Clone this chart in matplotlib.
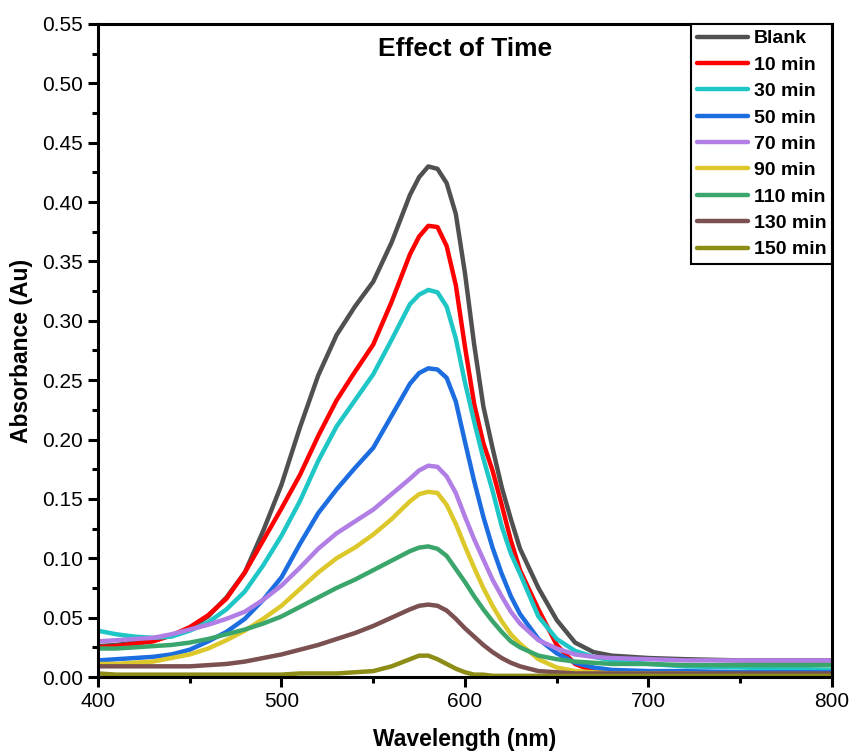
import matplotlib.pyplot as plt
from matplotlib.ticker import MultipleLocator, FormatStrFormatter

plt.rcParams['font.family'] = ['Liberation Sans', 'DejaVu Sans']

# wavelength grid (nm) and absorbance
wl = [400, 410, 420, 430, 440, 450, 460, 470, 480, 490, 500, 510, 520, 530, 540,
      550, 560, 570, 575, 580, 585, 590, 595, 600, 605, 610, 615, 620, 625, 630,
      640, 650, 660, 670, 680, 700, 720, 750, 800]

blank = [0.026, 0.027, 0.029, 0.031, 0.035, 0.041, 0.051, 0.067, 0.088, 0.123, 0.162,
         0.210, 0.254, 0.288, 0.312, 0.333, 0.366, 0.406, 0.421, 0.430, 0.428, 0.416,
         0.390, 0.340, 0.280, 0.228, 0.193, 0.160, 0.133, 0.108, 0.075, 0.048, 0.029,
         0.021, 0.018, 0.016, 0.015, 0.014, 0.014]
t10 = [0.025, 0.026, 0.028, 0.030, 0.035, 0.042, 0.052, 0.066, 0.088, 0.115, 0.142,
       0.170, 0.203, 0.233, 0.257, 0.280, 0.316, 0.356, 0.371, 0.380, 0.379, 0.363,
       0.330, 0.278, 0.230, 0.197, 0.174, 0.145, 0.115, 0.090, 0.057, 0.027, 0.011,
       0.005, 0.003, 0.003, 0.003, 0.003, 0.003]
t30 = [0.039, 0.036, 0.034, 0.033, 0.034, 0.039, 0.046, 0.057, 0.072, 0.094, 0.119,
       0.148, 0.182, 0.211, 0.233, 0.255, 0.284, 0.314, 0.322, 0.326, 0.324, 0.312,
       0.285, 0.248, 0.215, 0.184, 0.157, 0.127, 0.104, 0.087, 0.051, 0.032, 0.022,
       0.017, 0.014, 0.011, 0.009, 0.008, 0.006]
t50 = [0.014, 0.015, 0.016, 0.017, 0.019, 0.023, 0.030, 0.038, 0.049, 0.065, 0.084,
       0.112, 0.138, 0.158, 0.176, 0.193, 0.220, 0.247, 0.256, 0.260, 0.259, 0.252,
       0.232, 0.198, 0.165, 0.135, 0.109, 0.087, 0.068, 0.053, 0.032, 0.020, 0.012,
       0.008, 0.006, 0.005, 0.005, 0.004, 0.004]
t70 = [0.030, 0.031, 0.032, 0.033, 0.036, 0.040, 0.044, 0.049, 0.055, 0.065, 0.077,
       0.092, 0.108, 0.121, 0.131, 0.141, 0.154, 0.167, 0.174, 0.178, 0.177, 0.169,
       0.155, 0.135, 0.116, 0.099, 0.082, 0.068, 0.055, 0.045, 0.031, 0.024, 0.019,
       0.017, 0.016, 0.015, 0.014, 0.014, 0.014]
t90 = [0.011, 0.011, 0.012, 0.013, 0.016, 0.019, 0.024, 0.031, 0.039, 0.049, 0.060,
       0.074, 0.088, 0.100, 0.109, 0.120, 0.133, 0.148, 0.154, 0.156, 0.155, 0.145,
       0.129, 0.110, 0.092, 0.075, 0.060, 0.047, 0.036, 0.028, 0.015, 0.008, 0.005,
       0.004, 0.003, 0.003, 0.003, 0.002, 0.002]
t110 = [0.024, 0.024, 0.025, 0.026, 0.027, 0.029, 0.032, 0.036, 0.040, 0.045, 0.051,
        0.059, 0.067, 0.075, 0.082, 0.090, 0.098, 0.106, 0.109, 0.110, 0.108, 0.102,
        0.091, 0.080, 0.068, 0.057, 0.047, 0.038, 0.030, 0.025, 0.018, 0.015, 0.013,
        0.012, 0.011, 0.011, 0.010, 0.010, 0.010]
t130 = [0.009, 0.009, 0.009, 0.009, 0.009, 0.009, 0.010, 0.011, 0.013, 0.016, 0.019,
        0.023, 0.027, 0.032, 0.037, 0.043, 0.050, 0.057, 0.060, 0.061, 0.060, 0.056,
        0.049, 0.041, 0.034, 0.027, 0.021, 0.016, 0.012, 0.009, 0.005, 0.004, 0.003,
        0.003, 0.003, 0.003, 0.003, 0.003, 0.003]
t150 = [0.003, 0.002, 0.002, 0.002, 0.002, 0.002, 0.002, 0.002, 0.002, 0.002, 0.002,
        0.003, 0.003, 0.003, 0.004, 0.005, 0.009, 0.015, 0.018, 0.018, 0.015, 0.011,
        0.007, 0.004, 0.002, 0.002, 0.001, 0.001, 0.001, 0.001, 0.001, 0.001, 0.001,
        0.001, 0.001, 0.001, 0.001, 0.001, 0.001]

labels = ['Blank', '10 min', '30 min', '50 min', '70 min', '90 min', '110 min', '130 min', '150 min']
series = [blank, t10, t30, t50, t70, t90, t110, t130, t150]
colors = ['#505050', '#ff0000', '#1fc6c6', '#1c6de0', '#b07ee4', '#dcc82a',
          '#3aa66c', '#7b5050', '#8c8c16']

fig = plt.figure(figsize=(8.5, 7.54), dpi=100)
ax = fig.add_axes([0.1153, 0.1021, 0.8635, 0.8661])

for y, lab, c in zip(series, labels, colors):
    ax.plot(wl, y, color=c, lw=3.2, label=lab, solid_capstyle='round',
            solid_joinstyle='round')

ax.set_xlim(400, 800)
ax.set_ylim(0, 0.55)
ax.xaxis.set_major_locator(MultipleLocator(100))
ax.xaxis.set_minor_locator(MultipleLocator(50))
ax.yaxis.set_major_locator(MultipleLocator(0.05))
ax.yaxis.set_minor_locator(MultipleLocator(0.025))
ax.yaxis.set_major_formatter(FormatStrFormatter('%.2f'))

for s in ax.spines.values():
    s.set_linewidth(2.2)
ax.tick_params(which='major', direction='out', length=7, width=2.2, labelsize=15, pad=4)
ax.tick_params(which='minor', direction='out', length=4, width=2.2)

ax.set_xlabel('Wavelength (nm)', fontsize=16.5, fontweight='bold', labelpad=12)
ax.set_ylabel('Absorbance (Au)', fontsize=16.5, fontweight='bold', labelpad=6)
ax.text(0.5, 0.962, 'Effect of Time', transform=ax.transAxes, ha='center', va='center',
        fontsize=19, fontweight='bold')

leg = ax.legend(loc='upper right', fancybox=False, framealpha=1,
                edgecolor='black', prop={'weight': 'bold', 'size': 14},
                handlelength=2.6, handletextpad=0.3, labelspacing=0.45,
                borderpad=0.3, borderaxespad=0)
leg.get_frame().set_linewidth(1.5)

fig.savefig('out.png', dpi=100)
